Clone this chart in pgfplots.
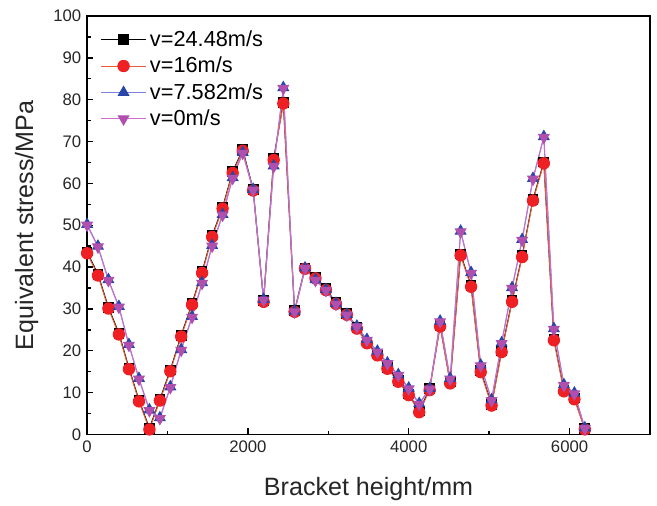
\documentclass[border=0pt]{standalone}
\usepackage{fontspec}
\setmainfont{Liberation Sans}
\usepackage{pgfplots}
\pgfplotsset{compat=1.18}
\definecolor{cred}{RGB}{238,32,36}
\definecolor{credline}{RGB}{235,90,50}
\definecolor{cblue}{RGB}{40,70,170}
\definecolor{cblueline}{RGB}{120,130,220}
\definecolor{cpurp}{RGB}{175,80,175}
\definecolor{cpurpline}{RGB}{205,110,205}

\begin{document}
\begin{tikzpicture}
\begin{axis}[
    scale only axis,
    width=336.6pt, height=250.2pt,
    xmin=0, xmax=7000, ymin=0, ymax=100,
    xtick={0,2000,4000,6000}, minor x tick num=1,
    ytick={0,10,...,100}, minor y tick num=1,
    xtick pos=bottom, ytick pos=left,
    tick align=inside,
    major tick length=3.8pt, minor tick length=2.2pt,
    axis line style={line width=0.9pt},
    every tick/.style={line width=0.8pt, black},
    scaled x ticks=false,
    /pgf/number format/1000 sep={},
    /pgf/number format/assume math mode=true,
    tick label style={font=\fontsize{10}{12}\selectfont, text=black!85},
    xlabel={Bracket height/mm}, ylabel={Equivalent stress/MPa},
    label style={font=\fontsize{15}{18}\selectfont, text=black!85},
    xlabel style={at={(rel axis cs:0.5,0)}, anchor=center, yshift=-32.4pt},
    ylabel style={at={(rel axis cs:0,0.5)}, anchor=center, yshift=36.1pt, inner ysep=9pt},
    legend style={draw=none, fill=none, at={(rel axis cs:0,1)}, anchor=north west,
        xshift=7.8pt, yshift=-6.4pt, inner sep=0pt,
        font=\fontsize{13}{15}\selectfont, row sep=0.9pt},
    legend cell align=left,
    legend image code/.code={
        \draw[#1] (0pt,0pt) -- (27pt,0pt);
        \draw[#1, only marks] plot coordinates {(13.5pt,0pt)};
    },
    after end axis/.code={
        \path (rel axis cs:1,1) ++(4.2pt,9.6pt);
    },
]
\addplot[black, line width=0.6pt, mark=square*, mark size=2.9pt, mark options={solid, fill=black}] coordinates {
(0,43.6)(135,38.3)(265,30.4)(395,24.2)(520,15.9)(645,8.2)(775,1.5)(905,8.4)(1035,15.4)(1170,23.7)
(1305,31.3)(1430,38.9)(1555,47.5)(1685,54.3)(1810,62.8)(1935,68.1)(2065,58.6)(2195,32.0)(2320,65.9)(2440,79.4)
(2580,29.6)(2710,39.8)(2840,37.6)(2970,34.8)(3095,31.5)(3230,28.9)(3355,25.6)(3480,22.1)(3610,19.2)(3735,16.0)
(3870,12.9)(4000,9.7)(4130,5.6)(4260,10.9)(4390,26.1)(4515,12.5)(4645,43.1)(4775,35.6)(4895,15.2)(5030,7.2)
(5155,20.0)(5285,32.0)(5410,42.7)(5545,56.2)(5680,65.1)(5805,22.8)(5930,10.6)(6060,8.7)(6190,1.4)};
\addlegendentry{v=24.48m/s}
\addplot[credline, line width=0.6pt, mark=*, mark size=3.4pt, mark options={solid, draw=cred, fill=cred}] coordinates {
(0,43.3)(135,38.0)(265,30.1)(395,23.9)(520,15.6)(645,7.9)(775,1.2)(905,8.1)(1035,15.1)(1170,23.4)
(1305,31.0)(1430,38.6)(1555,47.2)(1685,54.0)(1810,62.5)(1935,67.8)(2065,58.3)(2195,31.7)(2320,65.6)(2440,79.1)
(2580,29.3)(2710,39.6)(2840,37.3)(2970,34.5)(3095,31.2)(3230,28.6)(3355,25.3)(3480,21.8)(3610,18.9)(3735,15.7)
(3870,12.6)(4000,9.4)(4130,5.3)(4260,10.6)(4390,25.8)(4515,12.2)(4645,42.8)(4775,35.3)(4895,14.9)(5030,6.9)
(5155,19.7)(5285,31.7)(5410,42.4)(5545,55.9)(5680,64.8)(5805,22.5)(5930,10.3)(6060,8.4)(6190,1.2)};
\addlegendentry{v=16m/s}
\addplot[cblueline, line width=0.6pt, mark=triangle*, mark size=3.6pt, mark options={solid, draw=cblue, fill=cblue}] coordinates {
(0,50.2)(135,45.0)(265,37.0)(395,30.6)(520,21.5)(645,13.4)(775,5.9)(905,4.0)(1035,11.4)(1170,20.3)
(1305,28.2)(1430,36.3)(1555,45.2)(1685,52.6)(1810,61.4)(1935,67.4)(2065,58.6)(2195,32.3)(2320,64.2)(2440,82.9)
(2580,29.5)(2710,39.8)(2840,37.0)(2970,34.6)(3095,31.3)(3230,28.7)(3355,25.9)(3480,22.7)(3610,19.9)(3735,17.1)
(3870,14.3)(4000,11.1)(4130,7.4)(4260,11.0)(4390,27.1)(4515,13.4)(4645,48.6)(4775,38.7)(4895,16.6)(5030,8.3)
(5155,21.9)(5285,35.1)(5410,46.6)(5545,61.2)(5680,71.2)(5805,25.3)(5930,11.9)(6060,9.9)(6190,1.6)};
\addlegendentry{v=7.582m/s}
\addplot[cpurpline, line width=0.6pt, mark=triangle*, mark size=3.6pt, mark options={solid, rotate=180, draw=cpurp, fill=cpurp}] coordinates {
(0,50.0)(135,44.8)(265,36.8)(395,30.4)(520,21.3)(645,13.2)(775,5.7)(905,3.8)(1035,11.2)(1170,20.1)
(1305,28.0)(1430,36.1)(1555,45.0)(1685,52.4)(1810,61.2)(1935,67.2)(2065,58.4)(2195,32.1)(2320,64.0)(2440,82.7)
(2580,29.3)(2710,39.6)(2840,36.8)(2970,34.4)(3095,31.1)(3230,28.5)(3355,25.7)(3480,22.5)(3610,19.7)(3735,16.9)
(3870,14.1)(4000,10.9)(4130,7.2)(4260,10.8)(4390,26.9)(4515,13.2)(4645,48.4)(4775,38.5)(4895,16.4)(5030,8.1)
(5155,21.7)(5285,34.9)(5410,46.4)(5545,61.0)(5680,71.0)(5805,25.1)(5930,11.7)(6060,9.7)(6190,1.4)};
\addlegendentry{v=0m/s}
\end{axis}
\end{tikzpicture}
\end{document}
